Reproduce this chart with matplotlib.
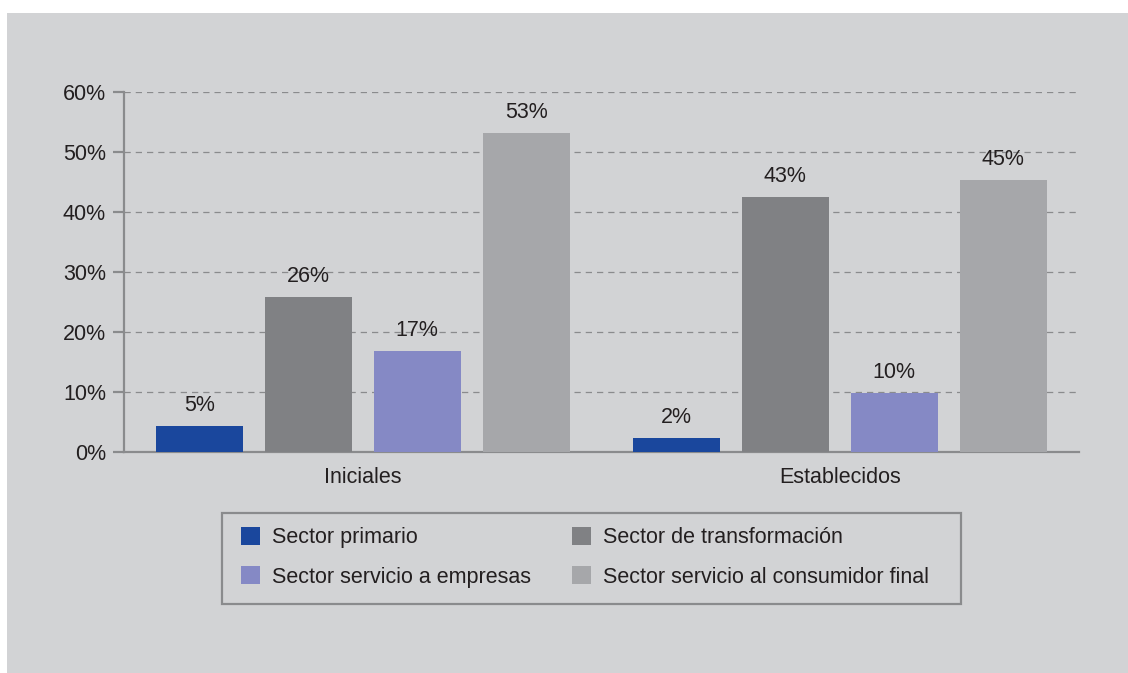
import matplotlib.pyplot as plt
from matplotlib.patches import Rectangle, Patch
from matplotlib.ticker import FuncFormatter

plt.rcParams['font.family'] = ['Liberation Sans', 'DejaVu Sans']

groups = ['Iniciales', 'Establecidos']
sectors = ['Sector primario', 'Sector de transformación',
           'Sector servicio a empresas', 'Sector servicio al consumidor final']
# bar heights, labels as printed
heights = [[4.4, 2.3], [25.8, 42.5], [16.9, 9.8], [53.2, 45.3]]
labels = [[5, 2], [26, 43], [17, 10], [53, 45]]
colors = ['#1a479d', '#808184', '#8589c5', '#a6a7aa']

bg = '#d2d3d5'
txt = '#231f20'
line_c = '#8a8b8d'
fs = 15.5

W, H = 1128, 673
fig = plt.figure(figsize=(W / 100, H / 100), dpi=100, facecolor='white')
fig.patches.append(Rectangle((7 / W, 0), 1, 1 - 13 / H, transform=fig.transFigure,
                             facecolor=bg, edgecolor='none', zorder=-1))

ax = fig.add_axes([124 / W, 221 / H, 955 / W, 360 / H])
ax.set_facecolor('none')

group_x = [0, 4.376]
w = 0.8
for i, name in enumerate(sectors):
    xs = [g + (i - 1.5) for g in group_x]
    bars = ax.bar(xs, heights[i], width=w, color=colors[i], label=name, zorder=3)
    for b, lab in zip(bars, labels[i]):
        ax.annotate(f'{lab}%', (b.get_x() + b.get_width() / 2, b.get_height()),
                    xytext=(0, 7), textcoords='offset points', ha='center', va='bottom',
                    fontsize=fs, color=txt)

ax.set_xlim(-2.19, 6.57)
ax.set_ylim(0, 60)
ax.set_yticks(range(0, 61, 10))
ax.yaxis.set_major_formatter(FuncFormatter(lambda v, p: f'{int(v)}%'))
ax.set_xticks(group_x)
ax.set_xticklabels(groups)

for s in ['top', 'right']:
    ax.spines[s].set_visible(False)
for s in ['left', 'bottom']:
    ax.spines[s].set_color(line_c)
    ax.spines[s].set_linewidth(1.6)
ax.tick_params(axis='y', length=8, width=1.6, color=line_c, labelsize=fs, labelcolor=txt, pad=5)
ax.tick_params(axis='x', length=0, labelsize=fs, labelcolor=txt, pad=11)
ax.yaxis.grid(True, linestyle=(0, (5, 4)), color=line_c, linewidth=0.9, zorder=0)
ax.set_axisbelow(True)

# legend box drawn separately so its padding matches the original
fig.patches.append(Rectangle((222 / W, 1 - 604 / H), 739 / W, 91 / H, transform=fig.transFigure,
                             facecolor='none', edgecolor=line_c, linewidth=1.6, zorder=1))
order = [0, 2, 1, 3]
handles = [Patch(facecolor=colors[k], edgecolor='none') for k in order]
leg = fig.legend(handles, [sectors[k] for k in order], ncol=2, loc='upper left',
                 bbox_to_anchor=(241 / W, 1 - 527 / H), borderaxespad=0, borderpad=0,
                 fontsize=fs, frameon=False, handlelength=0.88,
                 handleheight=0.88, handletextpad=0.56, columnspacing=1.9,
                 labelspacing=0.84, labelcolor=txt)

fig.savefig('out.png', dpi=100, facecolor='white')
